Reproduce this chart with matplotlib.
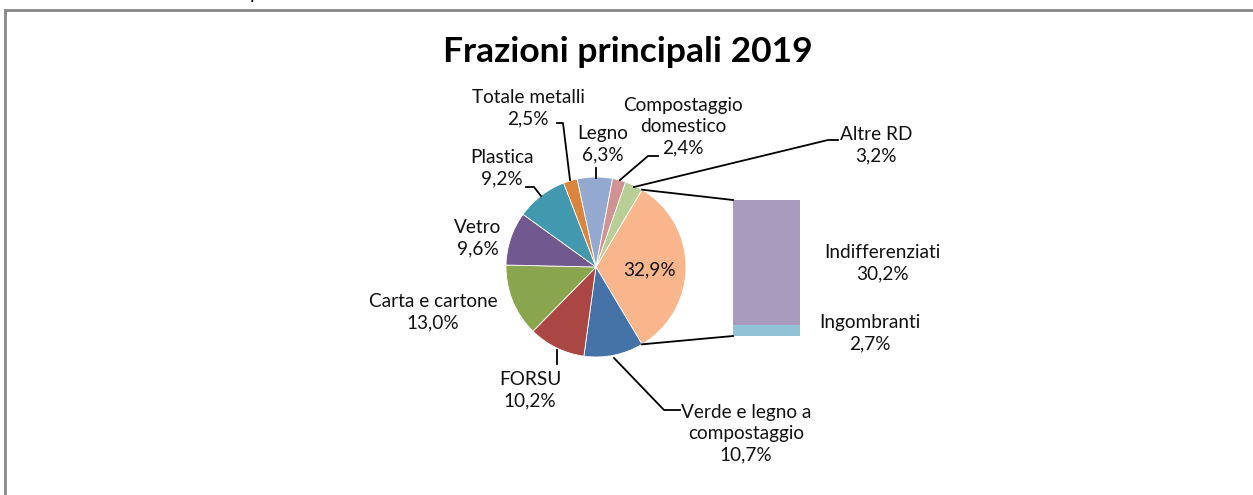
import numpy as np
import matplotlib.pyplot as plt

plt.rcParams["font.family"] = ["Lato", "DejaVu Sans"]

# main pie (clockwise from the "other" slice)
pie_labels = ["Altro", "Verde e legno a\ncompostaggio", "FORSU", "Carta e cartone",
              "Vetro", "Plastica", "Totale metalli", "Legno",
              "Compostaggio\ndomestico", "Altre RD"]
pie_values = [32.9, 10.7, 10.2, 13.0, 9.6, 9.2, 2.5, 6.3, 2.4, 3.2]
pie_colors = ["#F9B68C", "#4572A7", "#AA4643", "#89A54E", "#71588F",
              "#4198AF", "#DB843D", "#93A9CF", "#D19392", "#B9CD96"]

# secondary bar (breakdown of "Altro")
bar_labels = ["Ingombranti", "Indifferenziati"]
bar_values = [2.7, 30.2]
bar_colors = ["#92C3D4", "#A99BBD"]

W, H = 1253, 495
fig = plt.figure(figsize=(W / 100, H / 100), dpi=100)
ax = fig.add_axes([0, 0, 1, 1])


def py(y):
    # pixel row -> data y
    return H - y


cx, cy, r = 596, py(267), 90
other_angle = pie_values[0] / 100 * 360
start = other_angle / 2
wedges, _ = ax.pie(pie_values, colors=pie_colors, startangle=start,
                   counterclock=False, center=(cx, cy), radius=r,
                   wedgeprops=dict(edgecolor="white", linewidth=0.6))

# bar of pie
bar_x, bar_w = 766.5, 67
bar_bottom = py(336)
scale = 136 / sum(bar_values)
bottom = bar_bottom
for v, c in zip(bar_values, bar_colors):
    ax.bar(bar_x, v * scale, width=bar_w, bottom=bottom, color=c, edgecolor="none")
    bottom += v * scale

# connector lines
a1, a2 = np.radians(start), np.radians(-start)
ax.plot([cx + r * np.cos(a1), bar_x - bar_w / 2], [cy + r * np.sin(a1), bottom],
        color="black", lw=1.3)
ax.plot([cx + r * np.cos(a2), bar_x - bar_w / 2], [cy + r * np.sin(a2), bar_bottom],
        color="black", lw=1.3)

fs = 13.7
ls = 1.3
txt = dict(ha="center", va="center", fontsize=fs, linespacing=ls, color="#111111")


def pct(v):
    return f"{v:.1f}%".replace(".", ",")


label_pos = {
    "Verde e legno a\ncompostaggio": (746, 434),
    "FORSU": (530, 390.5),
    "Carta e cartone": (433, 312.5),
    "Vetro": (478, 238.5),
    "Plastica": (502, 168),
    "Totale metalli": (528, 108.5),
    "Legno": (603, 144),
    "Compostaggio\ndomestico": (683, 127),
    "Altre RD": (876, 145.5),
}
for lab, v in zip(pie_labels[1:], pie_values[1:]):
    x, y = label_pos[lab]
    ax.text(x, py(y), f"{lab}\n{pct(v)}", **txt)

ax.text(649, py(270), pct(pie_values[0]), **txt)
ax.text(882, py(263), f"{bar_labels[1]}\n{pct(bar_values[1])}", **txt)
ax.text(870, py(333.5), f"{bar_labels[0]}\n{pct(bar_values[0])}", **txt)

# leader lines
leaders = [
    [(557, 123), (563, 123), (570, 180)],
    [(596, 168), (596, 178)],
    [(658, 156), (648, 156), (620, 180)],
    [(838, 140), (828, 140), (634, 187)],
    [(526, 187), (534, 187), (541, 196)],
    [(557, 350), (557, 364)],
    [(614, 358), (664, 410), (680, 410)],
]
for pts in leaders:
    xs, ys = zip(*pts)
    ax.plot(xs, [py(y) for y in ys], color="black", lw=1.3)

ax.text(628, py(52), "Frazioni principali 2019", ha="center", va="center",
        fontsize=25.5, fontweight="bold", color="black")

# fragment of text from above the chart, cut off at the top edge
ax.text(255, py(-1), "p", ha="center", va="baseline", fontsize=14, color="black")

# chart border
ax.plot([5, 5, W], [0, py(10), py(10)], color="#888888", lw=2, solid_joinstyle="miter")

ax.set_xlim(0, W)
ax.set_ylim(0, H)
ax.set_aspect("auto")
ax.axis("off")
fig.savefig("out.png", dpi=100)
